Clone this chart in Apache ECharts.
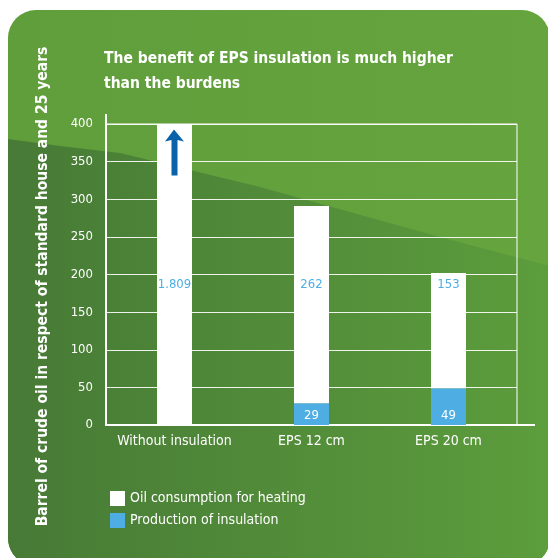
<!DOCTYPE html>
<html>
<head>
    <meta charset="utf-8">
    <title>EPS insulation</title>
    <script src="https://cdn.jsdelivr.net/npm/echarts@6/dist/echarts.min.js"></script>
    <style>
        html, body { margin: 0; padding: 0; background: #fff; }
    </style>
</head>
<body>
    <div id="main" style="width: 548px;height:558px;"></div>
    <script type="text/javascript">
        // data
        var categories = ['Without insulation', 'EPS 12 cm', 'EPS 20 cm'];
        var oilHeating = [1809, 262, 153];
        var insulationProd = [0, 29, 49];
        var yTicks = [0, 50, 100, 150, 200, 250, 300, 350, 400];

        var FONT = "'Liberation Sans Narrow', 'DejaVu Sans Condensed', 'Open Sans', sans-serif";
        var BLUE = '#4eaee3';

        // grid box (pixels)
        var gL = 106, gT = 124, gW = 411, gH = 301;
        var yMax = yTicks[yTicks.length - 1];
        var labelLevel = 186; // value where the white bar labels sit
        var arrowLevel = 362;

        // panel background shape
        var pX = 8, pY = 10, pR = 28, pX2 = 550, pY2 = 566;
        var edge = [[8, 139], [60, 146], [120, 153], [260, 187], [440, 237], [550, 266]];
        function arc(cx, cy, r, a0, a1) {
            var pts = [];
            for (var i = 0; i <= 10; i++) {
                var a = a0 + (a1 - a0) * i / 10;
                pts.push([cx + r * Math.cos(a), cy + r * Math.sin(a)]);
            }
            return pts;
        }
        var darkPts = edge.slice()
            .concat(arc(pX2 - pR, pY2 - pR, pR, 0, Math.PI / 2))
            .concat(arc(pX + pR, pY2 - pR, pR, Math.PI / 2, Math.PI));

        function fmt(v) {
            return String(v).replace(/\B(?=(\d{3})+(?!\d))/g, '.');
        }

        var chart = echarts.init(document.getElementById('main'));
        var option = {
            backgroundColor: '#ffffff',
            animation: false,
            title: {
                text: 'The benefit of EPS insulation is much higher\nthan the burdens',
                left: 99,
                top: 41,
                textStyle: {
                    color: '#fff', fontSize: 15.5, fontWeight: 'bold',
                    fontFamily: FONT, lineHeight: 25
                }
            },
            legend: {
                orient: 'vertical',
                left: 105,
                top: 486,
                icon: 'rect',
                itemWidth: 15,
                itemHeight: 15,
                itemGap: 7,
                data: ['Oil consumption for heating', 'Production of insulation'],
                textStyle: { color: '#fff', fontSize: 14, fontFamily: FONT }
            },
            grid: {
                left: gL, top: gT, width: gW, height: gH,
                show: true, borderColor: '#fff', borderWidth: 1,
                backgroundColor: 'transparent'
            },
            xAxis: {
                type: 'category',
                data: categories,
                axisLine: { lineStyle: { color: '#fff', width: 2 } },
                axisTick: { show: false },
                axisLabel: { color: '#fff', fontSize: 14, fontFamily: FONT, margin: 9, interval: 0 }
            },
            yAxis: {
                type: 'value',
                min: 0,
                max: yMax,
                interval: 50,
                name: 'Barrel of crude oil in respect of standard house and 25 years',
                nameLocation: 'middle',
                nameRotate: 90,
                nameGap: 55,
                nameTextStyle: {
                    color: '#fff', fontSize: 15.5, fontWeight: 'bold', fontFamily: FONT,
                    padding: [0, 24, 0, 0]
                },
                axisLine: { show: true, lineStyle: { color: '#fff', width: 2 } },
                axisTick: { show: false },
                axisLabel: { color: '#fff', fontSize: 13, fontFamily: FONT, margin: 13 },
                splitLine: { lineStyle: { color: 'rgba(255,255,255,0.9)', width: 1 } }
            },
            graphic: [
                {
                    type: 'rect', z: -10, silent: true,
                    shape: { x: pX, y: pY, width: pX2 - pX, height: pY2 - pY, r: pR },
                    style: {
                        fill: {
                            type: 'linear', x: 0, y: 0, x2: 1, y2: 0,
                            colorStops: [{ offset: 0, color: '#5f9e3b' }, { offset: 1, color: '#66a43e' }]
                        }
                    }
                },
                {
                    type: 'polygon', z: -9, silent: true,
                    shape: { points: darkPts },
                    style: {
                        fill: {
                            type: 'linear', x: 0, y: 0, x2: 1, y2: 0,
                            colorStops: [{ offset: 0, color: '#477a36' }, { offset: 1, color: '#5c9d3c' }]
                        }
                    }
                },
                // y axis overshoot and x axis extension
                { type: 'line', z: 5, silent: true, shape: { x1: gL, y1: gT - 10, x2: gL, y2: gT }, style: { stroke: '#fff', lineWidth: 2 } },
                { type: 'line', z: 5, silent: true, shape: { x1: gL + gW, y1: gT + gH, x2: 535, y2: gT + gH }, style: { stroke: '#fff', lineWidth: 2 } }
            ],
            series: [
                {
                    name: 'Production of insulation',
                    type: 'bar',
                    stack: 'total',
                    barWidth: 35,
                    data: insulationProd,
                    itemStyle: { color: BLUE },
                    label: {
                        show: true,
                        position: 'insideBottom',
                        distance: 3,
                        color: '#fff',
                        fontSize: 13,
                        fontFamily: FONT,
                        formatter: function (p) { return p.value ? p.value : ''; }
                    }
                },
                {
                    name: 'Oil consumption for heating',
                    type: 'bar',
                    stack: 'total',
                    barWidth: 35,
                    data: oilHeating,
                    itemStyle: { color: '#ffffff' },
                    markPoint: {
                        silent: true,
                        data: categories.map(function (c, i) {
                            return {
                                coord: [c, labelLevel],
                                symbol: 'circle',
                                symbolSize: 1,
                                itemStyle: { color: 'rgba(0,0,0,0)' },
                                label: {
                                    show: true, position: 'inside', color: BLUE,
                                    fontSize: 13, fontFamily: FONT,
                                    formatter: fmt(oilHeating[i])
                                }
                            };
                        }).concat([{
                            coord: [categories[0], arrowLevel],
                            symbol: 'path://M9,0 L19,12 L12.5,10.5 L12.5,46 L6.5,46 L6.5,10.5 L0,12 Z',
                            symbolSize: [19, 46],
                            itemStyle: { color: '#0a63aa' },
                            label: { show: false }
                        }])
                    }
                }
            ]
        };
        chart.setOption(option);
    </script>
</body>
</html>
